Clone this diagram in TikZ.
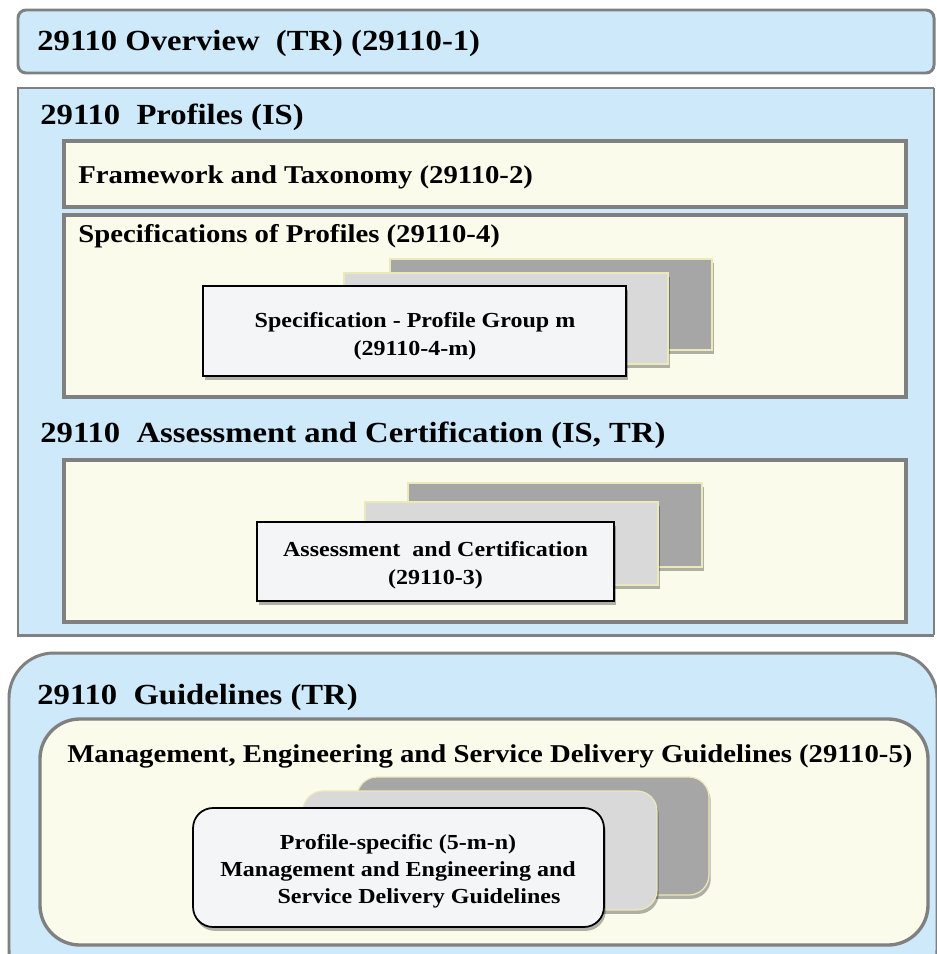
\documentclass[tikz,border=0pt]{standalone}
\usepackage{fontspec}
\setmainfont[FakeStretch=1.12]{Liberation Serif}
\usetikzlibrary{shadows}
\definecolor{boxblue}{RGB}{205,233,250}
\definecolor{cream}{RGB}{251,251,236}
\definecolor{framegray}{RGB}{128,128,128}
\definecolor{cardback}{RGB}{166,166,166}
\definecolor{cardmid}{RGB}{217,217,217}
\definecolor{cardfront}{RGB}{244,245,247}
\definecolor{cardedge}{RGB}{236,233,185}
\begin{document}
\begin{tikzpicture}[x=0.02cm,y=-0.02cm,
  titletext/.style={anchor=base west, inner sep=0, font=\fontsize{16.6}{20}\selectfont\bfseries},
  subtext/.style={anchor=base west, inner sep=0, font=\fontsize{14.6}{18}\selectfont\bfseries},
  cardtext/.style={inner sep=0, align=center, font=\fontsize{12.2}{15.8}\selectfont\bfseries},
  outerbox/.style={fill=boxblue, draw=framegray, line width=1.7pt},
  innerbox/.style={fill=cream, draw=framegray, line width=1.9pt},
  cardshadow/.style={drop shadow={shadow xshift=1pt, shadow yshift=-2.2pt, opacity=0.3, fill=black}},
  cardB/.style={fill=cardback, draw=cardedge, line width=0.7pt, inner sep=0, cardshadow},
  cardM/.style={fill=cardmid, draw=cardedge, line width=0.7pt, inner sep=0, cardshadow},
  cardF/.style={fill=cardfront, draw=black, line width=1pt, inner sep=0, cardshadow}
]
\useasboundingbox (0,0) rectangle (937,954);

% ---- Overview ----
\draw[outerbox, rounded corners=0.16cm] (18,10) rectangle (934,73);
\node[titletext] (ovt) at (37,50) {29110 Overview~ (TR) (29110-1)};

% ---- Profiles ----
\fill[boxblue] (18,88) rectangle (934,635);
\draw[framegray, line width=1.7pt] (934,88) -- (18,88) -- (18,635) -- (934,635);
\draw[framegray, line width=0.6pt] (934,88) -- (934,635);
\node[titletext] (prt) at (40,124) {29110~ Profiles (IS)};

\draw[innerbox] (64,141) rectangle (906,207);
\node[subtext] (fwt) at (78,183) {Framework and Taxonomy (29110-2)};

\draw[innerbox] (64,215) rectangle (906,397);
\node[subtext] (spt) at (78,242) {Specifications of Profiles (29110-4)};

\node[cardB, minimum width=6.44cm, minimum height=1.82cm] (specB) at (551,304.5) {};
\node[cardM, minimum width=6.48cm, minimum height=1.82cm] (specM) at (506,318.5) {};
\node[cardF, minimum width=8.46cm, minimum height=1.80cm] (specF) at (414.5,331) {};
\node[cardtext] (spectx) at (415,336) {Specification - Profile Group m\\(29110-4-m)};

% ---- Assessment ----
\node[titletext] (ast) at (40,442) {29110~ Assessment and Certification (IS, TR)};
\draw[innerbox] (64,460) rectangle (906,622);
\node[cardB, minimum width=5.88cm, minimum height=1.68cm] (asB) at (555,525) {};
\node[cardM, minimum width=5.86cm, minimum height=1.66cm] (asM) at (511.5,543.5) {};
\node[cardF, minimum width=7.14cm, minimum height=1.58cm] (asF) at (435.5,561.5) {};
\node[cardtext] (astx) at (435.5,565) {Assessment~ and Certification\\(29110-3)};

% ---- Guidelines ----
\begin{scope}
\clip (0,0) rectangle (937,954);
\draw[outerbox, rounded corners=0.9cm] (9,653) rectangle (937,995);
\end{scope}
\node[titletext] (gdt) at (37,704) {29110~ Guidelines (TR)};
\draw[innerbox, rounded corners=0.8cm] (40,719) rectangle (928,945);
\node[subtext] (mgt) at (67,762) {Management, Engineering and Service Delivery Guidelines (29110-5)};

\node[cardB, rounded corners=0.4cm, minimum width=7.04cm, minimum height=2.36cm] (gdB) at (533,836) {};
\node[cardM, rounded corners=0.4cm, minimum width=7.08cm, minimum height=2.38cm] (gdM) at (480,850.5) {};
\node[cardF, rounded corners=0.4cm, minimum width=8.22cm, minimum height=2.38cm] (gdF) at (398.5,867.5) {};
\node[cardtext, font=\fontsize{12.2}{15.3}\selectfont\bfseries] (gdtx) at (398,871) {Profile-specific (5-m-n)\\Management and Engineering and\\\hspace*{0.84cm}Service Delivery Guidelines};
\end{tikzpicture}
\end{document}
